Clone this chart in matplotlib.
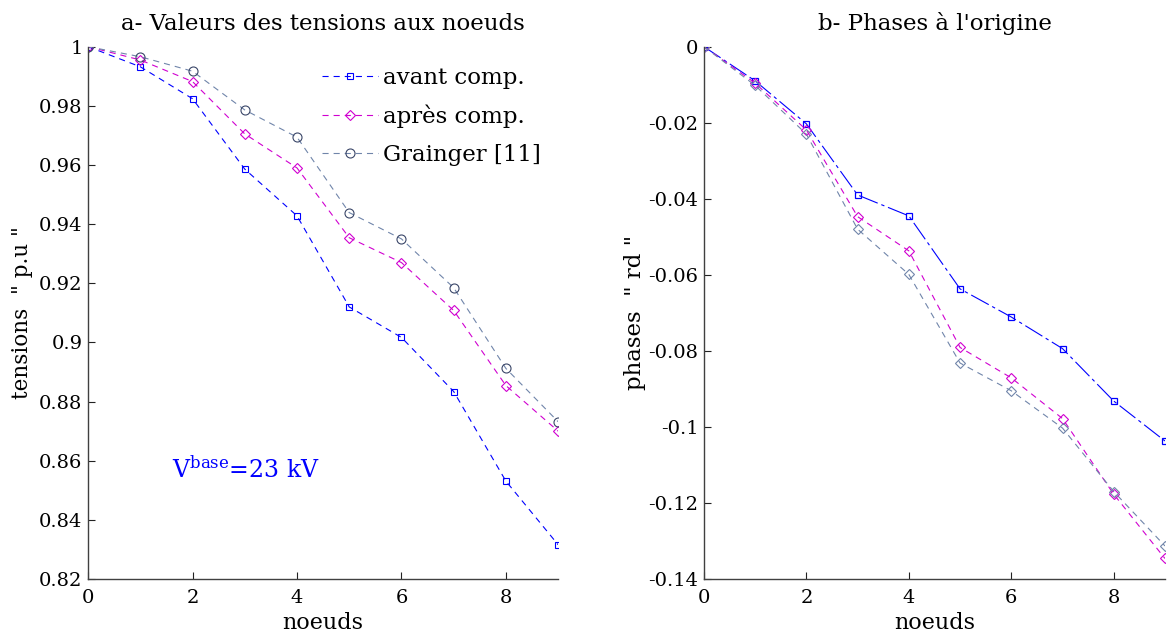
import matplotlib
matplotlib.use("Agg")
import matplotlib.pyplot as plt
import numpy as np

plt.rcParams['font.family'] = ['DejaVu Serif']
plt.rcParams['mathtext.fontset'] = 'dejavuserif'
plt.rcParams['axes.unicode_minus'] = False

noeuds = [0, 1, 2, 3, 4, 5, 6, 7, 8, 9]

# a- tensions (p.u)
v_avant = [1.0, 0.9932, 0.9824, 0.9586, 0.9428, 0.9120, 0.9017, 0.8834, 0.8531, 0.8316]
v_apres = [1.0, 0.9955, 0.9882, 0.9705, 0.9590, 0.9354, 0.9270, 0.9108, 0.8854, 0.8700]
v_grainger = [1.0, 0.9966, 0.9917, 0.9786, 0.9694, 0.9439, 0.9350, 0.9185, 0.8912, 0.8732]

# b- phases (rd)
p_avant = [0.0, -0.0090, -0.0203, -0.0390, -0.0445, -0.0637, -0.0711, -0.0794, -0.0932, -0.1037]
p_apres = [0.0, -0.0096, -0.0219, -0.0447, -0.0537, -0.0791, -0.0871, -0.0978, -0.1177, -0.1346]
p_grainger = [0.0, -0.0102, -0.0230, -0.0480, -0.0599, -0.0832, -0.0905, -0.1003, -0.1170, -0.1313]

labels = ['avant comp.', 'après comp.', 'Grainger [11]']

c_blue = '#0000ff'
c_mag = '#d000d0'
c_gr_line = '#7085aa'
c_gr_mark = '#3a4668'

fig = plt.figure(figsize=(11.76, 6.41), dpi=100)
ax1 = fig.add_axes([0.0749, 0.0967, 0.3997, 0.8305])
ax2 = fig.add_axes([0.5986, 0.0967, 0.3920, 0.8305])

lw = 0.8
ms = 5
dash = (5.5, 4.5)
dashdot = (18, 3.5, 3, 3.5)
ax1.plot(noeuds, v_avant, color=c_blue, lw=lw, dashes=dash, marker='s', ms=ms-0.3, mfc='none', mec=c_blue, mew=0.8, label=labels[0])
ax1.plot(noeuds, v_apres, color=c_mag, lw=lw, dashes=dash, marker='D', ms=ms-0.3, mfc='none', mec=c_mag, mew=0.8, label=labels[1])
ax1.plot(noeuds, v_grainger, color=c_gr_line, lw=lw, dashes=dash, marker='o', ms=ms+1.5, mfc='none', mec=c_gr_mark, mew=0.8, label=labels[2])

ax2.plot(noeuds, p_avant, color=c_blue, lw=lw, dashes=dashdot, marker='s', ms=ms, mfc='none', mec=c_blue, mew=0.9)
ax2.plot(noeuds, p_apres, color=c_mag, lw=lw, dashes=dash, marker='D', ms=ms, mfc='none', mec=c_mag, mew=0.8)
ax2.plot(noeuds, p_grainger, color=c_gr_line, lw=lw, dashes=dash, marker='D', ms=ms, mfc='none', mec=c_gr_line, mew=0.8)

ax1.set_xlim(0, 9)
ax1.set_ylim(0.82, 1.0)
ax1.set_yticks(np.arange(0.82, 1.001, 0.02))
ax1.set_yticklabels(['0.82', '0.84', '0.86', '0.88', '0.9', '0.92', '0.94', '0.96', '0.98', '1'])
ax2.set_xlim(0, 9)
ax2.set_ylim(-0.14, 0.0)
ax2.set_yticks(np.arange(-0.14, 0.001, 0.02))
ax2.set_yticklabels(['-0.14', '-0.12', '-0.1', '-0.08', '-0.06', '-0.04', '-0.02', '0'])

for ax in (ax1, ax2):
    ax.set_xticks([0, 2, 4, 6, 8])
    ax.spines['top'].set_visible(False)
    ax.spines['right'].set_visible(False)
    for s in ('left', 'bottom'):
        ax.spines[s].set_color('#404040')
        ax.spines[s].set_linewidth(1.0)
    ax.tick_params(direction='in', length=5, width=0.8, labelsize=14, colors='#222222', labelcolor='black')
    ax.tick_params(axis='x', pad=7)
    ax.tick_params(axis='y', pad=4)
    ax.set_xlabel('noeuds', fontsize=16, labelpad=4)

ax1.set_title('a- Valeurs des tensions aux noeuds', fontsize=16.5, pad=12)
ax2.set_title("b- Phases à l'origine", fontsize=16.5, pad=12)
ax1.set_ylabel('tensions  " p.u "', fontsize=15.5, labelpad=4)
ax2.set_ylabel('phases  " rd "', fontsize=16.5, labelpad=2)

ax1.legend(loc='upper left', bbox_to_anchor=(0.498, 0.962), frameon=False, fontsize=16.5,
           handlelength=2.45, handletextpad=0.2, labelspacing=0.7, borderaxespad=0.0, borderpad=0.0)

ax1.text(1.61, 0.8543, r'V$^{\mathrm{base}}$=23 kV', color=c_blue, fontsize=17, va='baseline', ha='left')

fig.savefig('out.png', dpi=100)
